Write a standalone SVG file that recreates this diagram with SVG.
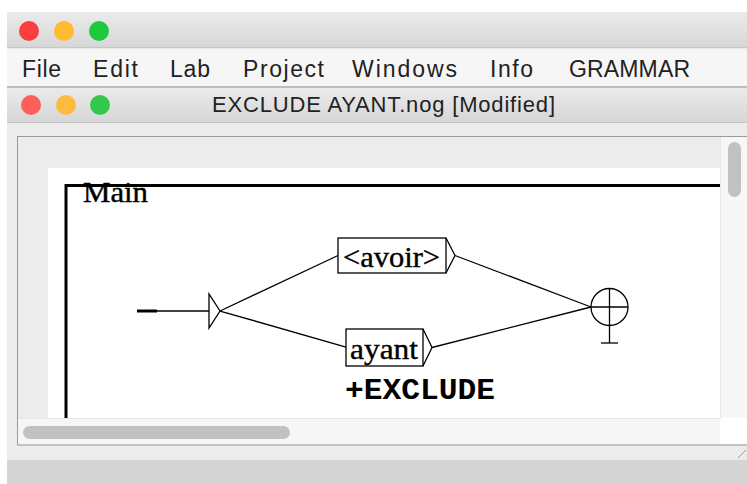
<svg xmlns="http://www.w3.org/2000/svg" width="747" height="484" viewBox="0 0 747 484">
  <defs>
    <linearGradient id="tb" x1="0" y1="0" x2="0" y2="1">
      <stop offset="0" stop-color="#ebebeb"/>
      <stop offset="1" stop-color="#d6d6d6"/>
    </linearGradient>
    <style>
      .menu { font-family: "Liberation Sans", Arial, sans-serif; font-size: 23px; fill: #222; }
      .title { font-family: "Liberation Sans", Arial, sans-serif; font-size: 22px; fill: #222; }
      .serif { font-family: "Liberation Serif", "Times New Roman", serif; fill: #000; font-size: 30px; stroke: #000; stroke-width: 0.4; }
      .box { fill: #fff; stroke: #000; stroke-width: 1.3; }
      .edge { fill: none; stroke: #000; stroke-width: 1.3; }
      .thumb { fill: #c1c1c1; }
    </style>
  </defs>

  <!-- window chrome -->
  <rect x="0" y="0" width="747" height="484" fill="#ffffff"/>
  <rect x="7" y="12" width="740" height="36" fill="url(#tb)"/>
  <line x1="7" y1="48" x2="747" y2="48" stroke="#b9b9b9" stroke-width="1"/>
  <circle cx="29" cy="31" r="10" fill="#fc3d3e"/>
  <circle cx="64" cy="31" r="10" fill="#fdbb2d"/>
  <circle cx="99" cy="31" r="10" fill="#1fc93f"/>

  <rect x="7" y="48.5" width="740" height="38" fill="#f6f6f6"/>
  <line x1="7" y1="87" x2="747" y2="87" stroke="#a8a8a8" stroke-width="1.5"/>
  <text class="menu" x="22" y="77" textLength="39">File</text>
  <text class="menu" x="93" y="77" textLength="45">Edit</text>
  <text class="menu" x="170" y="77" textLength="40">Lab</text>
  <text class="menu" x="243" y="77" textLength="81">Project</text>
  <text class="menu" x="352" y="77" textLength="105">Windows</text>
  <text class="menu" x="490" y="77" textLength="43">Info</text>
  <text class="menu" x="569" y="77" textLength="121">GRAMMAR</text>

  <rect x="7" y="88" width="740" height="34" fill="url(#tb)"/>
  <line x1="7" y1="122.5" x2="747" y2="122.5" stroke="#c4c4c4" stroke-width="1"/>
  <circle cx="31" cy="105" r="10" fill="#fc605c"/>
  <circle cx="66" cy="105" r="10" fill="#fdbc40"/>
  <circle cx="100" cy="105" r="10" fill="#34c84a"/>
  <text class="title" x="212" y="112" textLength="343">EXCLUDE AYANT.nog [Modified]</text>

  <!-- content area -->
  <rect x="7" y="123" width="740" height="337" fill="#ececec"/>
  <rect x="17.5" y="136.5" width="735" height="308.5" fill="#ececec" stroke="#9a9a9a" stroke-width="1"/>
  <rect x="48" y="168" width="672" height="250" fill="#ffffff"/>
  <!-- vertical scrollbar -->
  <rect x="720" y="137" width="27" height="281" fill="#f7f7f7"/>
  <line x1="720.5" y1="137" x2="720.5" y2="418" stroke="#e6e6e6"/>
  <rect x="728" y="142" width="13" height="55" rx="6.5" class="thumb"/>
  <!-- horizontal scrollbar -->
  <rect x="18" y="418" width="702" height="26" fill="#f6f6f6"/>
  <line x1="18" y1="418.5" x2="720" y2="418.5" stroke="#e6e6e6"/>
  <rect x="23" y="426" width="267" height="13" rx="6.5" class="thumb"/>
  <rect x="720" y="418" width="27" height="26" fill="#ffffff"/>
  <rect x="7" y="460" width="740" height="24" fill="#d4d4d4"/>
  <line x1="738" y1="458" x2="746" y2="450" stroke="#999" stroke-width="1"/>

  <!-- graph frame -->
  <g id="frame">
    <path d="M66,418 V185.5 H720" fill="none" stroke="#000" stroke-width="3"/>
    <text class="serif" x="83" y="202" textLength="65" lengthAdjust="spacingAndGlyphs">Main</text>
  </g>

  <!-- connectors -->
  <g id="connectors">
    <line x1="220" y1="311" x2="338" y2="255.5" class="edge"/>
    <line x1="220" y1="311" x2="346" y2="347" class="edge"/>
    <line x1="455" y1="255.5" x2="591" y2="307" class="edge"/>
    <line x1="432" y1="347.5" x2="591" y2="307" class="edge"/>
  </g>

  <!-- initial state -->
  <g id="initial">
    <line x1="137" y1="311" x2="157" y2="311" stroke="#000" stroke-width="3"/>
    <line x1="157" y1="311" x2="209" y2="311" class="edge"/>
    <path d="M209,294 V328 L220,311 Z" class="edge"/>
  </g>

  <!-- node <avoir> -->
  <g id="node-avoir">
    <rect x="338" y="238" width="108" height="35" class="box"/>
    <path d="M446,238 L455,255.5 L446,273" class="edge"/>
    <text class="serif" x="343" y="267" textLength="97" lengthAdjust="spacingAndGlyphs">&lt;avoir&gt;</text>
  </g>

  <!-- node ayant -->
  <g id="node-ayant">
    <rect x="346" y="329" width="77" height="37" class="box"/>
    <path d="M423,329 L432,347.5 L423,366" class="edge"/>
    <text class="serif" x="350" y="359" textLength="68" lengthAdjust="spacingAndGlyphs">ayant</text>
    <text x="345" y="399" font-family="'Liberation Mono', 'Courier New', monospace" font-weight="bold" font-size="30" textLength="150" lengthAdjust="spacingAndGlyphs">+EXCLUDE</text>
  </g>

  <!-- final state -->
  <g id="final">
    <circle cx="609.5" cy="307" r="18.5" class="edge"/>
    <line x1="591" y1="307" x2="628" y2="307" class="edge"/>
    <line x1="609.5" y1="288.5" x2="609.5" y2="343" class="edge"/>
    <line x1="601" y1="343" x2="618" y2="343" class="edge"/>
  </g>
</svg>
